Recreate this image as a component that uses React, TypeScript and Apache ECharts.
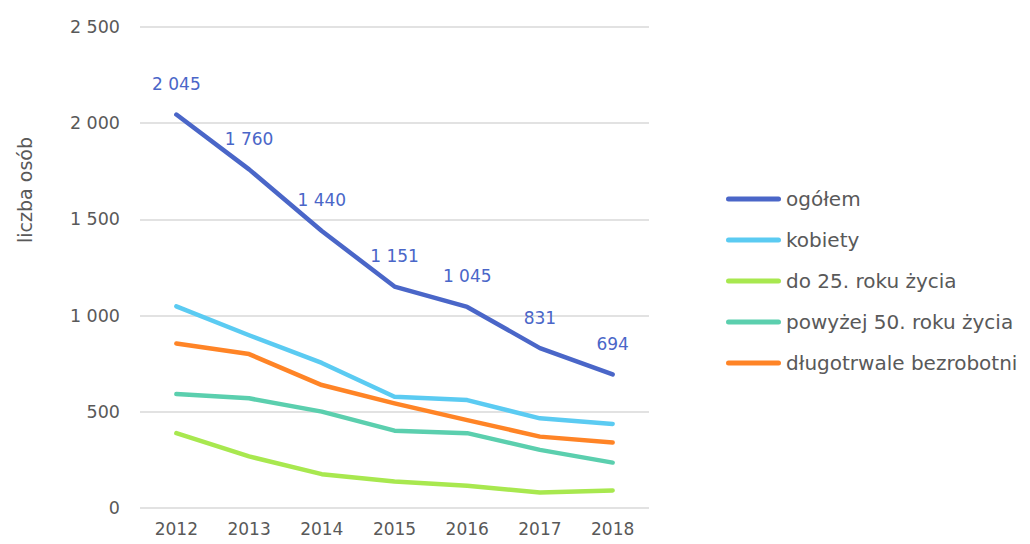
import React, { useEffect, useRef } from "react";
import * as echarts from "echarts";

const years = ["2012", "2013", "2014", "2015", "2016", "2017", "2018"];
const ogolem = [2045, 1760, 1440, 1151, 1045, 831, 694];
const kobiety = [1048, 898, 754, 578, 561, 466, 437];
const do25 = [389, 268, 176, 138, 116, 81, 91];
const powyzej50 = [592, 570, 501, 402, 389, 302, 236];
const dlugotrwale = [855, 800, 639, 544, 457, 371, 340];
const seriesNames = ["ogółem", "kobiety", "do 25. roku życia", "powyżej 50. roku życia", "długotrwale bezrobotni"];
const colors = ["#4A66C8", "#5BCBF2", "#A8E84F", "#5BCFAE", "#FF8426"];

const FONT = "'DejaVu Sans', sans-serif";
const fmt = (v: number) => Math.round(v).toString().replace(/\B(?=(\d{3})+(?!\d))/g, " ");

export default function App() {
  const ref = useRef<HTMLDivElement>(null);
  useEffect(() => {
    if (!ref.current) return;
    const chart = echarts.init(ref.current, null, { renderer: "svg" });
    const datasets = [ogolem, kobiety, do25, powyzej50, dlugotrwale];
    const capsule = "path://M2.5,0 H52.5 A2.5,2.5 0 0 1 52.5,5 H2.5 A2.5,2.5 0 0 1 2.5,0 Z";
    chart.setOption({
      animation: false,
      color: colors,
      textStyle: { fontFamily: FONT },
      grid: { left: 140, right: 381, top: 27, bottom: 36, containLabel: false },
      legend: {
        orient: "vertical",
        left: 726,
        top: 188,
        padding: 0,
        itemWidth: 55,
        itemHeight: 5,
        itemGap: 19,
        icon: capsule,
        textStyle: { color: "#595959", fontSize: 20, fontFamily: FONT, lineHeight: 22 },
        data: seriesNames,
      },
      xAxis: {
        type: "category",
        data: years,
        boundaryGap: true,
        axisLine: { show: false },
        axisTick: { show: false },
        axisLabel: { color: "#595959", fontSize: 17, fontFamily: FONT, margin: 12 },
      },
      yAxis: {
        type: "value",
        min: 0,
        max: 2500,
        interval: 500,
        axisLine: { show: false },
        axisTick: { show: false },
        splitLine: { lineStyle: { color: "#D9D9D9", width: 1.5 } },
        axisLabel: { color: "#595959", fontSize: 17.5, fontFamily: FONT, margin: 20, formatter: (v: number) => fmt(v) },
      },
      graphic: [
        {
          type: "text",
          x: 25,
          y: 190,
          rotation: Math.PI / 2,
          style: {
            text: "liczba osób",
            fill: "#595959",
            font: `19px ${FONT}`,
            align: "center",
            verticalAlign: "middle",
          },
        },
      ],
      series: datasets.map((d, i) => ({
        name: seriesNames[i],
        type: "line",
        data: d,
        symbol: "circle",
        symbolSize: 0,
        showSymbol: true,
        z: i === 0 ? 10 : 2,
        itemStyle: { color: colors[i] },
        lineStyle: { width: 4.5, color: colors[i], cap: "round", join: "round" },
        label: i === 0
          ? {
              show: true,
              position: "top",
              distance: 22,
              color: colors[0],
              fontSize: 17,
              fontFamily: FONT,
              formatter: (p: any) => fmt(p.value),
            }
          : { show: false },
      })),
    });
    return () => chart.dispose();
  }, []);
  return <div ref={ref} style={{ width: 1030, height: 544, position: "absolute", left: 0, top: 0 }} />;
}
